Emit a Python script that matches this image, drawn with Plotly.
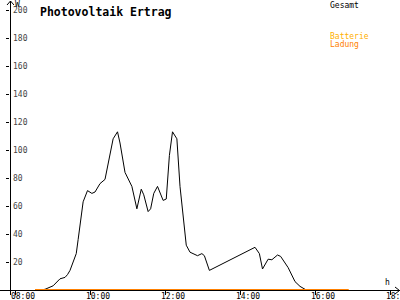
import plotly.graph_objects as go

# ---- data ----
gesamt_times = ["08:40", "08:48", "09:01", "09:12", "09:20", "09:24", "09:28", "09:38", "09:41",
                "09:49", "09:56", "10:03", "10:08", "10:16", "10:24", "10:32", "10:37", "10:44",
                "10:48", "10:56", "11:01", "11:07", "11:15", "11:22", "11:26", "11:33", "11:37",
                "11:42", "11:48", "11:57", "12:02", "12:07", "12:12", "12:19", "12:24", "12:34",
                "12:40", "12:52", "12:59", "13:03", "13:11", "14:24", "14:31", "14:36", "14:45",
                "14:51", "15:00", "15:05", "15:17", "15:28", "15:36", "15:44"]
gesamt_values = [0, 0.5, 3, 8, 9, 11, 14, 26, 36,
                 63, 71, 69, 70, 76, 79, 96, 108, 113,
                 105, 84, 79, 74, 58, 72, 68, 56, 58,
                 69, 74, 64, 65, 96, 113, 108, 74, 32,
                 27, 24.5, 26, 24.5, 14, 30.5, 26, 15, 22,
                 21.6, 25, 24, 16, 6, 2.6, 0.5]
ladung_times = ["08:32", "16:54"]
ladung_values = [0, 0]
tick_hours = [8, 10, 12, 14, 16, 18]
tick_labels = ["08:00", "10:00", "12:00", "14:00", "16:00", "18:00"]
y_ticks = [20, 40, 60, 80, 100, 120, 140, 160, 180, 200]


def to_hours(t):
    h, m = t.split(":")
    return int(h) + int(m) / 60.0


FONT = "DejaVu Sans Mono"
W, H = 400, 300
ML, MR, MT, MB = 10, 0, 0, 10
PW, PH = W - ML - MR, H - MT - MB
PX_PER_H = 37.5
X0 = 8 - (15 - ML) / PX_PER_H
X1 = X0 + PW / PX_PER_H
Y1 = PH / 1.4


def px(X):
    return (X - ML) / PW


def py(Y):
    return (H - MB - Y) / PH


fig = go.Figure()
fig.add_trace(go.Scatter(x=[to_hours(t) for t in gesamt_times], y=gesamt_values,
                         mode="lines", line=dict(color="black", width=1), name="Gesamt"))
fig.add_trace(go.Scatter(x=[to_hours(t) for t in ladung_times], y=ladung_values,
                         mode="lines", line=dict(color="#FF8000", width=2), name="Ladung",
                         cliponaxis=False))

axis_common = dict(showgrid=False, zeroline=False, showline=False, automargin=False)
fig.update_layout(
    width=W, height=H, margin=dict(l=ML, r=MR, t=MT, b=MB, autoexpand=False),
    paper_bgcolor="white", plot_bgcolor="white", showlegend=False,
    font=dict(family=FONT, size=8, color="black"),
    xaxis=dict(range=[X0, X1], tickvals=tick_hours, ticktext=tick_labels,
               ticks="outside", ticklen=4, tickcolor="black", tickwidth=1,
               ticklabelshift=8, ticklabelstandoff=-6, ticklabeloverflow="allow",
               **axis_common),
    xaxis2=dict(range=[X0, X1], overlaying="x", anchor="y", side="bottom",
                tickvals=tick_hours, ticks="inside", ticklen=2, tickcolor="black",
                showticklabels=False, **axis_common),
    yaxis=dict(range=[0, Y1], tickvals=y_ticks, ticks="outside", ticklen=3,
               tickcolor="black", ticklabelposition="inside", ticklabeloverflow="allow",
               **axis_common),
    yaxis2=dict(range=[0, Y1], overlaying="y", anchor="x", side="left",
                tickvals=y_ticks, ticks="inside", ticklen=3, tickcolor="black",
                showticklabels=False, **axis_common),
)

line = dict(color="black", width=1)
shapes = [
    dict(type="line", xref="paper", yref="paper", x0=px(0), x1=px(400), y0=py(290.5), y1=py(290.5), line=line),
    dict(type="line", xref="paper", yref="paper", x0=px(10.5), x1=px(10.5), y0=py(295), y1=py(1), line=line),
    dict(type="path", xref="paper", yref="paper",
         path=f"M {px(395)},{py(287)} L {px(399.5)},{py(290.5)} L {px(395)},{py(294)}", line=line),
    dict(type="path", xref="paper", yref="paper",
         path=f"M {px(7)},{py(5)} L {px(10.5)},{py(1)} L {px(14)},{py(5)}", line=line),
]
fig.update_layout(shapes=shapes)

ann = [
    dict(text="<b>Photovoltaik Ertrag</b>", x=px(39), y=py(12), xanchor="left", yanchor="middle",
         font=dict(family=FONT, size=11.5, color="black")),
    dict(text="W", x=px(14), y=py(4), xanchor="left", yanchor="middle", font=dict(size=8)),
    dict(text="h", x=px(384), y=py(282), xanchor="left", yanchor="middle", font=dict(size=8)),
    dict(text="Gesamt", x=px(329), y=py(5), xanchor="left", yanchor="middle", font=dict(size=8, color="black")),
    dict(text="Batterie", x=px(329), y=py(36.5), xanchor="left", yanchor="middle", font=dict(size=8, color="#FFB000")),
    dict(text="Ladung", x=px(329), y=py(44.5), xanchor="left", yanchor="middle", font=dict(size=8, color="#FF8000")),
]
for a in ann:
    a.update(xref="paper", yref="paper", showarrow=False, borderpad=0)
    a["font"].setdefault("family", FONT)
fig.update_layout(annotations=ann)

fig.write_html("out.html")
